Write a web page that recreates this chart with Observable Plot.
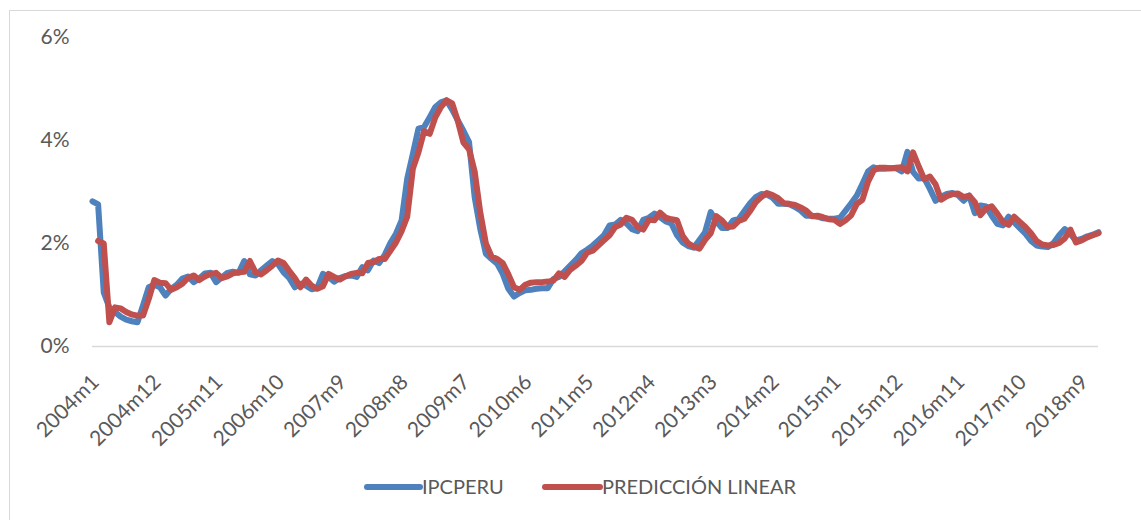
<!DOCTYPE html>
<html>
<head>
<meta charset="utf-8">
<script src="https://cdn.jsdelivr.net/npm/d3@7"></script>
<script src="https://cdn.jsdelivr.net/npm/@observablehq/plot@0.6"></script>
<style>
  html, body { margin: 0; padding: 0; background: #fff; overflow: hidden; width: 1141px; height: 520px; }
  #frame { position: absolute; left: 9px; top: 10px; width: 1300px; height: 700px; border: 1px solid #d9d9d9; box-sizing: border-box; }
  #chart { position: absolute; left: 0; top: 0; }
  #legend { position: absolute; left: 0; top: 450px; }
</style>
</head>
<body>
<div id="frame"></div>
<div id="chart"></div>
<div id="legend"></div>
<script>
// Categories: monthly, 2004m1 .. 2018m12
const years = d3.range(2004, 2019);
const months = years.flatMap(y => d3.range(1, 13).map(m => `${y}m${m}`));

const tickLabels = ["2004m1","2004m12","2005m11","2006m10","2007m9","2008m8","2009m7","2010m6","2011m5","2012m4","2013m3","2014m2","2015m1","2015m12","2016m11","2017m10","2018m9"];
const yTicks = [0, 2, 4, 6];

// IPCPERU (%)
const ipcperu = [
  2.82,2.76,1.05,0.76,0.67,0.58,0.52,0.49,0.47,0.80,1.15,1.20,
  1.15,0.99,1.12,1.20,1.32,1.36,1.25,1.32,1.42,1.43,1.25,1.34,
  1.43,1.45,1.43,1.66,1.40,1.38,1.48,1.57,1.66,1.60,1.44,1.33,
  1.15,1.22,1.18,1.11,1.14,1.41,1.35,1.26,1.33,1.37,1.38,1.35,
  1.54,1.48,1.67,1.62,1.78,2.01,2.19,2.45,3.26,3.74,4.23,4.26,
  4.45,4.65,4.74,4.78,4.60,4.39,4.19,3.97,2.90,2.28,1.80,1.70,
  1.61,1.41,1.12,0.97,1.04,1.09,1.10,1.12,1.13,1.13,1.31,1.35,
  1.46,1.57,1.68,1.81,1.88,1.96,2.06,2.16,2.35,2.37,2.46,2.39,
  2.28,2.24,2.46,2.50,2.58,2.51,2.43,2.39,2.16,2.02,1.95,1.92,
  2.07,2.22,2.61,2.43,2.30,2.30,2.45,2.48,2.63,2.78,2.90,2.96,
  2.95,2.89,2.77,2.77,2.76,2.71,2.64,2.54,2.54,2.52,2.49,2.48,
  2.48,2.50,2.64,2.78,2.93,3.16,3.40,3.48,3.45,3.45,3.46,3.46,
  3.40,3.78,3.39,3.26,3.27,3.06,2.83,2.91,2.96,2.98,2.94,2.83,
  2.93,2.59,2.74,2.72,2.54,2.38,2.35,2.52,2.41,2.30,2.19,2.05,
  1.96,1.94,1.93,2.01,2.16,2.28,2.18,2.06,2.09,2.14,2.17,2.22
];

// PREDICCIÓN LINEAR (%)
const prediccion = [
  null,2.05,2.00,0.47,0.76,0.74,0.67,0.62,0.60,0.60,0.92,1.29,
  1.24,1.23,1.10,1.15,1.22,1.33,1.38,1.29,1.36,1.41,1.43,1.33,
  1.36,1.42,1.44,1.45,1.66,1.44,1.40,1.48,1.57,1.67,1.62,1.47,
  1.33,1.15,1.30,1.18,1.12,1.17,1.41,1.35,1.30,1.36,1.41,1.43,
  1.42,1.62,1.64,1.70,1.70,1.86,2.02,2.24,2.52,3.45,3.77,4.18,
  4.13,4.45,4.65,4.78,4.72,4.38,3.96,3.83,3.40,2.60,2.00,1.75,
  1.70,1.62,1.40,1.15,1.10,1.20,1.24,1.25,1.25,1.26,1.28,1.42,
  1.35,1.49,1.57,1.66,1.82,1.86,1.96,2.06,2.16,2.32,2.37,2.50,
  2.46,2.32,2.27,2.46,2.45,2.60,2.50,2.47,2.45,2.15,2.00,1.94,
  1.90,2.07,2.20,2.53,2.45,2.32,2.33,2.44,2.48,2.63,2.80,2.90,
  2.98,2.94,2.88,2.78,2.77,2.75,2.70,2.64,2.53,2.54,2.51,2.47,
  2.46,2.38,2.45,2.55,2.77,2.85,3.20,3.42,3.47,3.47,3.46,3.47,
  3.48,3.40,3.77,3.50,3.25,3.30,3.15,2.85,2.92,2.96,2.97,2.90,
  2.93,2.80,2.55,2.68,2.72,2.58,2.42,2.36,2.52,2.42,2.32,2.20,
  2.05,1.98,1.96,1.97,2.01,2.10,2.27,2.02,2.06,2.12,2.16,2.20
];

const seriesNames = ["IPCPERU", "PREDICCIÓN LINEAR"];
const seriesColors = ["#4F81BD", "#C0504D"];

const blueRows = months.map((m, i) => ({month: m, v: ipcperu[i]}));
const redRows = months.map((m, i) => ({month: m, v: prediccion[i]}));

const FONT = "Lato, 'Open Sans', sans-serif";
const TEXT = "#595959";

const chart = Plot.plot({
  width: 1141,
  height: 450,
  marginLeft: 92,
  marginRight: 43,
  marginTop: 37,
  marginBottom: 104,
  style: {fontFamily: FONT, fontSize: "21px", color: TEXT, background: "transparent"},
  x: {type: "point", domain: months, padding: 0, axis: null},
  y: {domain: [0, 6], ticks: yTicks, tickFormat: d => d + "%", tickSize: 0, tickPadding: 23, label: null},
  marks: [
    Plot.ruleY([0], {stroke: "#d9d9d9", strokeWidth: 1.5}),
    Plot.line(blueRows, {x: "month", y: "v", stroke: seriesColors[0], strokeWidth: 6, strokeLinejoin: "round", strokeLinecap: "round"}),
    Plot.line(redRows.filter(d => d.v != null), {x: "month", y: "v", stroke: seriesColors[1], strokeWidth: 6, strokeLinejoin: "round", strokeLinecap: "round"}),
    Plot.text(tickLabels, {x: d => d, y: 0, dy: 32, dx: 3, rotate: -45, textAnchor: "end", fill: TEXT, fontSize: 21, fontFamily: FONT})
  ]
});
document.getElementById("chart").appendChild(chart);

// Legend below the plot
const lg = d3.select("#legend").append("svg").attr("width", 1141).attr("height", 70)
  .style("font-family", FONT).style("font-size", "20px");
const items = [{x0: 367, x1: 420, tx: 422}, {x0: 545, x1: 600, tx: 602}];
items.forEach((it, k) => {
  lg.append("line").attr("x1", it.x0).attr("x2", it.x1).attr("y1", 37).attr("y2", 37)
    .attr("stroke", seriesColors[k]).attr("stroke-width", 6).attr("stroke-linecap", "round");
  lg.append("text").attr("x", it.tx).attr("y", 37).attr("dy", "0.35em").attr("fill", TEXT).text(seriesNames[k]);
});
</script>
</body>
</html>
